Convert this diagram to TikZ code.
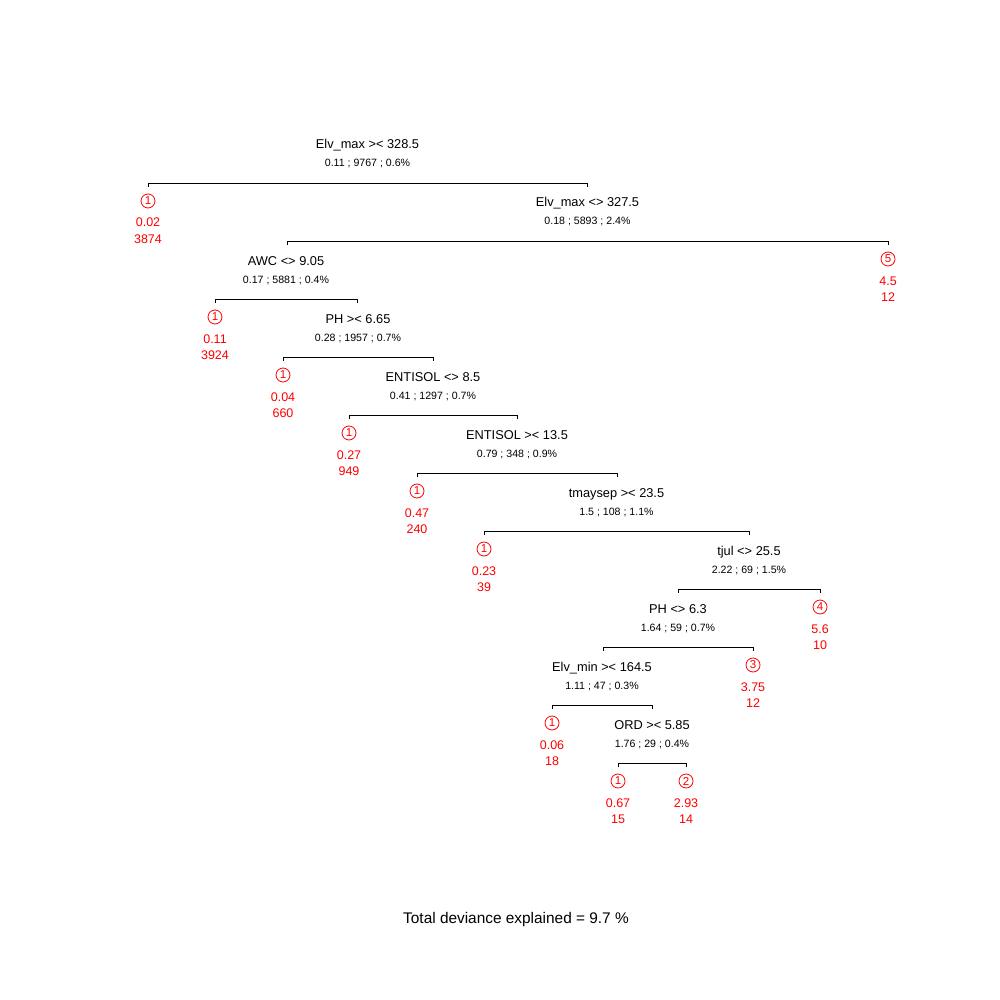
\documentclass[tikz,border=0pt]{standalone}
\usepackage{fontspec}
\usetikzlibrary{calc}
\setmainfont{Liberation Sans}
\begin{document}
\begin{tikzpicture}[x=1pt,y=-1pt,
  lab/.style={anchor=base,inner sep=0pt,font=\fontsize{12.8}{14}\selectfont},
  stat/.style={anchor=base,inner sep=0pt,font=\fontsize{10.6}{12}\selectfont},
  leafnum/.style={anchor=base,inner sep=0pt,text=red,font=\fontsize{12.5}{14}\selectfont},
  leafid/.style={circle,draw=red,line width=0.8pt,minimum size=14pt,inner sep=0pt,text=red,font=\fontsize{11.5}{12}\selectfont},
  barline/.style={draw=black,line width=0.9pt}]
\fill[white] (0,0) rectangle (1000,1000);
\useasboundingbox (0,0) rectangle (1000,1000);
\newcommand\tsplit[6]{%
  \node[lab] (#1l) at ({(#2+#3)/2},{#4-34}) {#5};
  \node[stat] (#1s) at ({(#2+#3)/2},{#4-16}) {#6};
  \coordinate (#1a) at (#2,#4);
  \coordinate (#1b) at (#3,#4);
  \draw[barline] ($(#1a)+(0,4)$) -- (#1a) -- (#1b) -- ($(#1b)+(0,4)$);
}
\newcommand\tleaf[6]{%
  \node[leafid] (#1i) at (#2,{#3+18}) {#4};
  \node[leafnum] (#1v) at (#2,{#3+44}) {#5};
  \node[leafnum] (#1n) at (#2,{#3+60.5}) {#6};
}
\tsplit{s1}{148}{587}{183}{Elv\_max >< 328.5}{0.11 ; 9767 ; 0.6\%}
\tleaf{l1}{148}{183}{1}{0.02}{3874}
\tsplit{s2}{287}{888}{241}{Elv\_max <> 327.5}{0.18 ; 5893 ; 2.4\%}
\tleaf{l2}{888}{241}{5}{4.5}{12}
\tsplit{s3}{215}{357}{299}{AWC <> 9.05}{0.17 ; 5881 ; 0.4\%}
\tleaf{l3}{215}{299}{1}{0.11}{3924}
\tsplit{s4}{283}{433}{357}{PH >< 6.65}{0.28 ; 1957 ; 0.7\%}
\tleaf{l4}{283}{357}{1}{0.04}{660}
\tsplit{s5}{349}{517}{415}{ENTISOL <> 8.5}{0.41 ; 1297 ; 0.7\%}
\tleaf{l5}{349}{415}{1}{0.27}{949}
\tsplit{s6}{417}{617}{473}{ENTISOL >< 13.5}{0.79 ; 348 ; 0.9\%}
\tleaf{l6}{417}{473}{1}{0.47}{240}
\tsplit{s7}{484}{749}{531}{tmaysep >< 23.5}{1.5 ; 108 ; 1.1\%}
\tleaf{l7}{484}{531}{1}{0.23}{39}
\tsplit{s8}{678}{820}{589}{tjul <> 25.5}{2.22 ; 69 ; 1.5\%}
\tleaf{l8}{820}{589}{4}{5.6}{10}
\tsplit{s9}{603}{753}{647}{PH <> 6.3}{1.64 ; 59 ; 0.7\%}
\tleaf{l9}{753}{647}{3}{3.75}{12}
\tsplit{s10}{552}{652}{705}{Elv\_min >< 164.5}{1.11 ; 47 ; 0.3\%}
\tleaf{l10}{552}{705}{1}{0.06}{18}
\tsplit{s11}{618}{686}{763}{ORD >< 5.85}{1.76 ; 29 ; 0.4\%}
\tleaf{l11}{618}{763}{1}{0.67}{15}
\tleaf{l12}{686}{763}{2}{2.93}{14}
\node[anchor=base,inner sep=0pt,font=\fontsize{15.4}{18}\selectfont] (total) at (516,923) {Total deviance explained = 9.7 \%};
\end{tikzpicture}
\end{document}
